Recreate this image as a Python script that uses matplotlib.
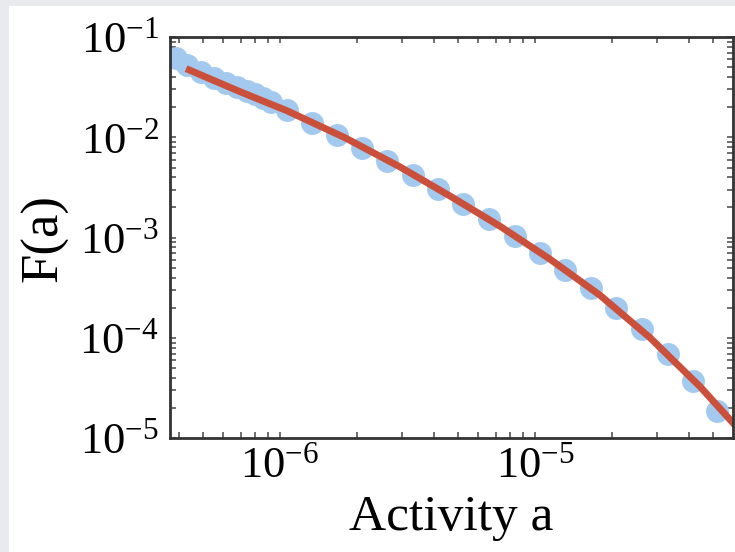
import numpy as np
import matplotlib
matplotlib.use("Agg")
import matplotlib.pyplot as plt
from matplotlib.patches import Rectangle
from matplotlib.ticker import LogLocator, NullFormatter

# measured points (activity a, F(a))
activity = [3.91e-7, 4.31e-7, 4.90e-7, 5.51e-7, 6.14e-7, 6.78e-7, 7.42e-7,
            7.98e-7, 8.57e-7, 9.22e-7, 1.064e-6, 1.333e-6, 1.675e-6, 2.10e-6,
            2.63e-6, 3.33e-6, 4.17e-6, 5.22e-6, 6.61e-6, 8.36e-6, 1.047e-5,
            1.312e-5, 1.66e-5, 2.08e-5, 2.63e-5, 3.33e-5, 4.17e-5, 5.18e-5]
freq = [6.24e-2, 5.31e-2, 4.52e-2, 3.94e-2, 3.51e-2, 3.20e-2, 2.92e-2,
        2.72e-2, 2.48e-2, 2.26e-2, 1.88e-2, 1.396e-2, 1.059e-2, 7.85e-3,
        5.82e-3, 4.22e-3, 3.05e-3, 2.16e-3, 1.53e-3, 1.035e-3, 7.0e-4,
        4.73e-4, 3.13e-4, 1.97e-4, 1.22e-4, 7.0e-5, 3.76e-5, 1.88e-5]

# fitted curve
fit_a = [4.28e-7, 6.97e-7, 1.065e-6, 1.80e-6, 2.955e-6, 4.64e-6, 7.29e-6,
         1.145e-5, 1.80e-5, 2.82e-5, 4.44e-5, 6.37e-5]
fit_f = [4.84e-2, 2.85e-2, 1.84e-2, 9.89e-3, 5.07e-3, 2.60e-3, 1.30e-3,
         6.10e-4, 2.66e-4, 1.01e-4, 3.27e-5, 1.19e-5]

plt.rcParams['font.family'] = 'serif'
plt.rcParams['font.serif'] = ['Liberation Serif', 'DejaVu Serif']
plt.rcParams['mathtext.fontset'] = 'stix'

fig = plt.figure(figsize=(7.35, 5.52), dpi=100, facecolor='#e9eaed')
# white panel inside the grey border
fig.patches.append(Rectangle((9 / 735, 0), 1, 546 / 552, transform=fig.transFigure,
                             facecolor='white', edgecolor='none', zorder=-10))

ax = fig.add_axes([170 / 735, (552 - 438.3) / 552, 563 / 735, 401.3 / 552])
ax.set_zorder(1)

ax.plot(activity, freq, 'o', color='#a3caee', markersize=16.5, markeredgewidth=0)
ax.plot(fit_a, fit_f, '-', color='#cb503b', linewidth=5, solid_capstyle='butt')

ax.set_xscale('log')
ax.set_yscale('log')
ax.set_xlim(3.703e-7, 5.976e-5)
ax.set_ylim(1e-5, 1e-1)

# every decade labelled, minor ticks 2..9 on both axes
for axis in (ax.xaxis, ax.yaxis):
    axis.set_major_locator(LogLocator(base=10, numticks=20))
    axis.set_minor_locator(LogLocator(base=10, subs=np.arange(2, 10), numticks=20))
    axis.set_minor_formatter(NullFormatter())

ax.set_xlabel('Activity a', fontsize=37, labelpad=6)
ax.set_ylabel('F(a)', fontsize=38, labelpad=8)

for s in ax.spines.values():
    s.set_linewidth(2)
    s.set_color('#333333')

ax.tick_params(which='both', direction='in', top=True, right=True,
               length=4.5, width=1.2, color='#555555')
ax.tick_params(axis='x', which='major', labelsize=32, pad=6)
ax.tick_params(axis='y', which='major', labelsize=32, pad=8)

fig.savefig('out.png', dpi=100, facecolor=fig.get_facecolor())
